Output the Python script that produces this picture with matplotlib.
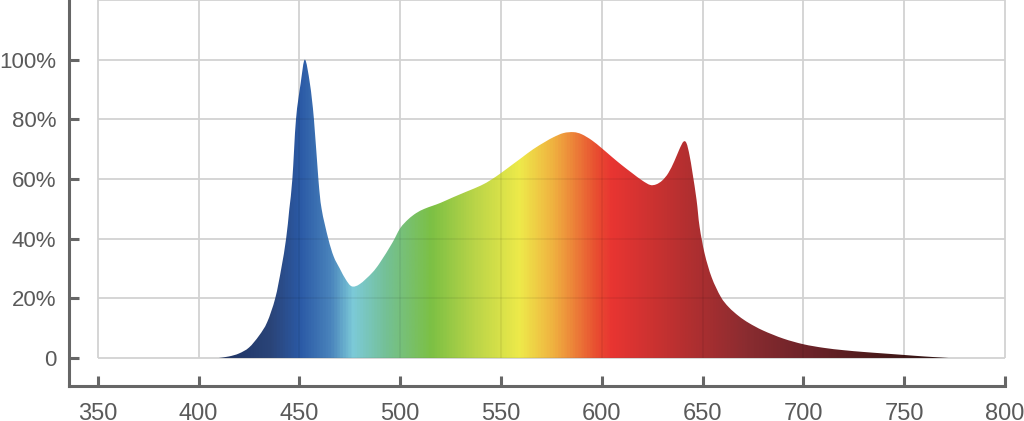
import numpy as np
import matplotlib
matplotlib.use("Agg")
from matplotlib import pyplot as plt
from matplotlib.colors import LinearSegmentedColormap
from matplotlib.patches import PathPatch
from matplotlib.path import Path

# spectrum (wavelength nm, relative intensity %)
wavelength = [410, 415, 420, 425, 430, 434, 438, 441, 443.4, 445, 446.5, 448.3,
              450.6, 452.7, 455.2, 457.2, 459.4, 461, 464.3, 467, 470, 473, 476,
              480, 486, 490, 496, 500, 504, 508, 512, 516, 520, 526, 533, 540, 545,
              550, 555, 560, 566, 572, 576, 581, 586, 590, 595, 600, 605, 610,
              615, 620, 624, 627, 630, 633, 636, 638.5, 640.5, 642, 643.5, 645,
              647, 648.5, 651, 654.5, 659, 663, 668, 673, 680, 690, 700, 710,
              720, 730, 740, 750, 760, 772]
intensity = [0, 0.5, 1.5, 3.5, 7.5, 12, 20, 30, 40, 50, 60, 80,
             92, 100, 92, 80, 60, 50, 40, 34, 30, 26.3, 24,
             24.8, 28.5, 32, 38.5, 43.5, 46.5, 48.6, 50, 51, 52, 53.8, 55.8, 57.8, 59.7,
             62, 64.5, 67, 70, 72.5, 74, 75.4, 75.7, 75, 73, 70.3, 67.4, 64.6,
             62, 59.5, 58, 58.2, 59.5, 62, 66, 70, 72.5, 72, 68, 62,
             53, 44, 35, 27, 20.5, 17, 14, 11.7, 9.2, 6.5, 4.6, 3.4,
             2.6, 2.0, 1.5, 1.0, 0.5, 0]

x_ticks = [350, 400, 450, 500, 550, 600, 650, 700, 750, 800]
y_ticks = [0, 20, 40, 60, 80, 100]
y_labels = ["0", "20%", "40%", "60%", "80%", "100%"]

# colour of the fill along the wavelength axis
color_nm = [410, 435, 450, 465, 476, 493, 515, 536, 559, 576, 598, 605, 639, 672, 705, 738, 775]
color_hex = ["#1e3363", "#2a4478", "#2b5aa6", "#4a84bc", "#7ccad8", "#74c094", "#7cc044",
             "#b8d448", "#eeea4a", "#f0b040", "#e84a30", "#e83532", "#b83030", "#8a2c30",
             "#6a2228", "#4a1a1a", "#2a1010"]

plt.rcParams["font.family"] = ["Liberation Sans", "DejaVu Sans"]


def smooth_outline(xs, ys):
    # closed outline through the points, drawn as cubic bezier pieces
    p = np.column_stack([xs, ys]).astype(float)
    verts = [p[0]]
    codes = [Path.MOVETO]
    n = len(p)
    for i in range(n - 1):
        a = p[i - 1] if i > 0 else p[i]
        b, c = p[i], p[i + 1]
        d = p[i + 2] if i + 2 < n else p[i + 1]
        c1 = b + (c - a) / 6.0
        c2 = c - (d - b) / 6.0
        c1[1] = max(c1[1], 0)
        c2[1] = max(c2[1], 0)
        verts += [c1, c2, c]
        codes += [Path.CURVE4] * 3
    verts.append(p[0])
    codes.append(Path.CLOSEPOLY)
    return Path(verts, codes)


fig = plt.figure(figsize=(10.24, 4.21), dpi=100)
ax = fig.add_axes([69 / 1024, 35 / 421, (1005 - 69) / 1024, (421 - 35) / 421])
ax.set_xlim(335.7, 800)
ax.set_ylim(-9.4, 120)

grid_c = "#d2d2d2"
ax.vlines(x_ticks, 0, 120, color=grid_c, lw=1.3, zorder=1, clip_on=False)
ax.hlines(y_ticks + [120], 350, 800, color=grid_c, lw=1.3, zorder=1, clip_on=False)

lo, hi = color_nm[0], color_nm[-1]
cmap = LinearSegmentedColormap.from_list(
    "spec", [((w - lo) / (hi - lo), c) for w, c in zip(color_nm, color_hex)])
grad = np.linspace(0, 1, 1200).reshape(1, -1)

outline = PathPatch(smooth_outline(wavelength, intensity),
                    facecolor="none", edgecolor="none")
ax.add_patch(outline)
img = ax.imshow(grad, cmap=cmap, extent=[lo, hi, 0, 102], aspect="auto",
                interpolation="bilinear", zorder=2, origin="lower")
img.set_clip_path(outline)

# faint grid showing through the fill
gv = ax.vlines(x_ticks, 0, 120, color="#000000", alpha=0.06, lw=1.3, zorder=3)
gh = ax.hlines(y_ticks, 350, 800, color="#000000", alpha=0.06, lw=1.3, zorder=3)
gv.set_clip_path(outline)
gh.set_clip_path(outline)

for s in ["top", "right"]:
    ax.spines[s].set_visible(False)
for s in ["left", "bottom"]:
    ax.spines[s].set_color("#666666")
    ax.spines[s].set_linewidth(2.2)

ax.set_xticks(x_ticks)
ax.set_yticks(y_ticks)
ax.set_yticklabels(y_labels)
ax.tick_params(axis="both", direction="in", length=7, width=2.2, color="#666666",
               labelcolor="#5a5a5a", labelsize=16)
ax.tick_params(axis="x", pad=12, labelsize=17)
ax.tick_params(axis="y", pad=9)

fig.savefig("out.png", dpi=100)
